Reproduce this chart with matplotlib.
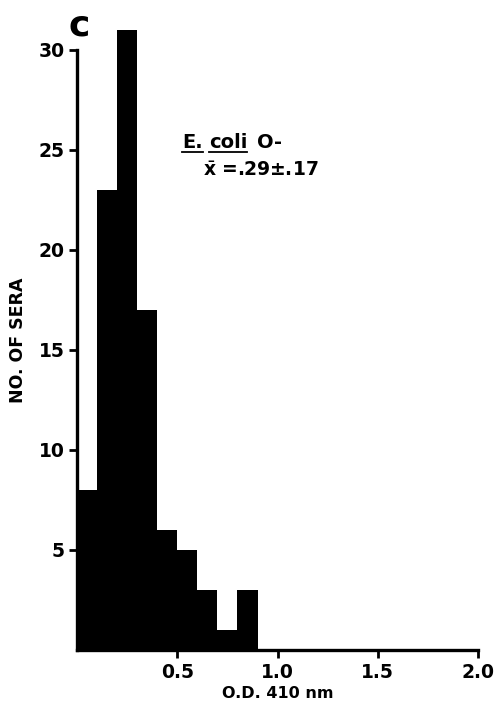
import numpy as np
import matplotlib.pyplot as plt

plt.rcParams["font.family"] = ["DejaVu Sans"]
plt.rcParams["mathtext.fontset"] = "dejavusans"

# histogram of O.D. readings, bins of 0.1
bin_edges = [0.0, 0.1, 0.2, 0.3, 0.4, 0.5, 0.6, 0.7, 0.8, 0.9]
counts = [8, 23, 31, 17, 6, 5, 3, 1, 3]

x_ticks = [0.5, 1.0, 1.5, 2.0]
x_ticklabels = ["0.5", "1.0", "1.5", "2.0"]
y_ticks = [5, 10, 15, 20, 25, 30]

W, H = 497, 714
fig = plt.figure(figsize=(W / 100, H / 100), dpi=100)
ax = fig.add_axes([0.155, 0.0896, 0.807, 0.869])

ax.bar(bin_edges[:-1], counts, width=np.diff(bin_edges), align="edge",
       color="black", edgecolor="black", linewidth=0)

ax.set_xlim(0, 2.0)
ax.set_ylim(0, 31)

for s in ["top", "right"]:
    ax.spines[s].set_visible(False)
ax.spines["left"].set_bounds(0, 30)
ax.spines["left"].set_linewidth(2.4)
ax.spines["bottom"].set_linewidth(2.4)

ax.set_xticks(x_ticks)
ax.set_xticklabels(x_ticklabels)
ax.set_yticks(y_ticks)
ax.tick_params(axis="both", length=6, width=2, labelsize=13.5, pad=3)
for lab in ax.get_xticklabels() + ax.get_yticklabels():
    lab.set_fontweight("semibold")

ax.set_xlabel("O.D. 410 nm", fontsize=11.5, fontweight="semibold", labelpad=3)
ax.set_ylabel("NO. OF SERA", fontsize=12.5, fontweight="semibold", labelpad=8)

fig.text(68 / W, 1 - 36 / H, "c", fontsize=26, fontweight="bold", ha="left", va="baseline")

fig.canvas.draw()
r = fig.canvas.get_renderer()


def put(s, x_px, base_px, size, uline=False):
    t = fig.text(x_px / W, 1 - base_px / H, s, fontsize=size, fontweight="semibold",
                 ha="left", va="baseline")
    bb = t.get_window_extent(r)
    if uline:
        y = 1 - (base_px + 4) / H
        fig.add_artist(plt.Line2D([bb.x0 / W, bb.x1 / W], [y, y], color="black",
                                  lw=1.3, transform=fig.transFigure))
    return bb.x1


x_end = put("E.", 182, 148, 14, uline=True)
x_end = put("coli", x_end + 6, 148, 14, uline=True)
put("O-", x_end + 10, 148, 14)
put(r"$\bar{\mathbf{x}}$ =.29±.17", 203, 176, 13.5)

fig.savefig("out.png", dpi=100)
